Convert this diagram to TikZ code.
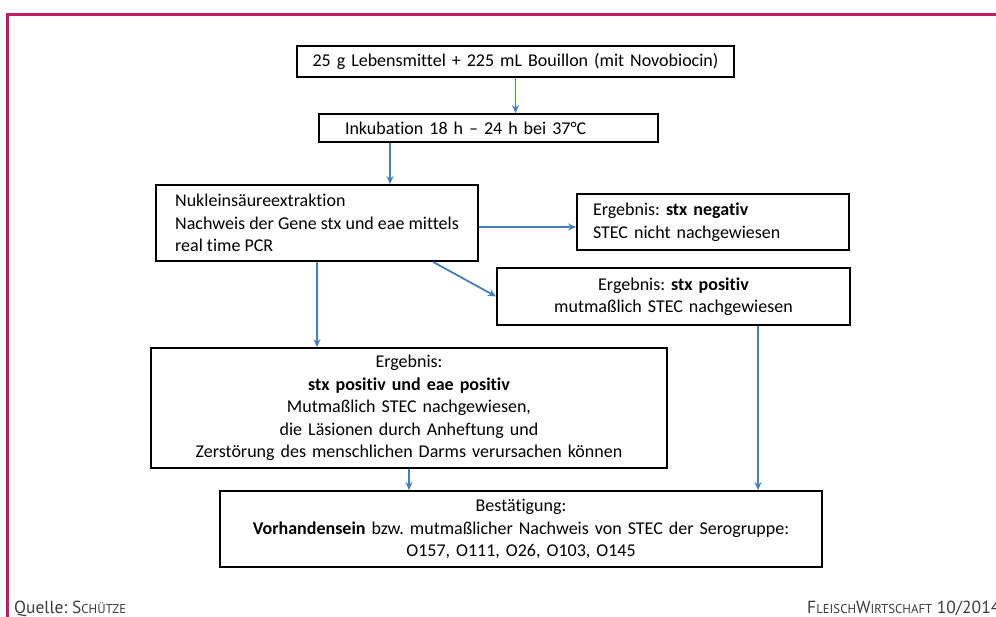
\documentclass[tikz,border=0pt]{standalone}
\usepackage{fontspec}
\setmainfont{Carlito}[Ligatures=NoCommon]
\newfontfamily\footfont{PT Sans}
\usepackage{tikz}
\usetikzlibrary{arrows.meta,positioning}

\definecolor{fwmagenta}{RGB}{192,30,96}
\definecolor{arrowblue}{RGB}{74,126,187}
\definecolor{footgray}{RGB}{60,60,60}
\newcommand{\fakesc}[2]{#1{\fontsize{12.8}{12.8}\selectfont #2}}
\frenchspacing
\hyphenpenalty=10000
\exhyphenpenalty=10000

\begin{document}
\begin{tikzpicture}
		[x=1pt,y=-1pt,
		box/.style={draw=black,line width=1.8pt,inner sep=0pt,align=center,
			font=\fontsize{18}{22.5}\selectfont},
		leftbox/.style={box,align=left},
		flow/.style={draw=arrowblue,line width=1.8pt,-{Stealth[length=8pt,width=7pt]}},
		foot/.style={inner sep=0pt,anchor=base west,text=footgray,
			font=\footfont\fontsize{17.5}{17.5}\selectfont}]
		\clip (0,0) rectangle (996,617);
		% frame
		\draw[fwmagenta,line width=3pt] (7,617) -- (7,14.5) -- (1000,14.5);
		% steps
		\node[box,minimum width=437pt,minimum height=31pt,text width=437pt] (food) at (515.5,61.5)
			{25 g Lebensmittel + 225 mL Bouillon (mit Novobiocin)};
		\node[leftbox,minimum width=339pt,minimum height=28pt,inner xsep=26pt,text width=287pt] (incub) at (488.5,128)
			{Inkubation 18 h -- 24 h bei 37°C};
		\node[leftbox,minimum width=322pt,minimum height=76pt] (nucl) at (317,223)
			{Nukleinsäureextraktion\\Nachweis der Gene stx und eae mittels\\real time PCR};
		\node[leftbox,minimum width=272pt,minimum height=56pt,inner xsep=16pt,text width=240pt] (neg) at (713,222)
			{Ergebnis: \textbf{stx negativ}\\STEC nicht nachgewiesen};
		\node[box,minimum width=353pt,minimum height=57pt,text width=353pt] (pos) at (673.5,296.5)
			{Ergebnis: \textbf{stx positiv}\\mutmaßlich STEC nachgewiesen};
		\node[box,minimum width=516pt,minimum height=120pt,text width=516pt] (both) at (409,408)
			{Ergebnis:\\\textbf{stx positiv und eae positiv}\\Mutmaßlich STEC nachgewiesen,\\die Läsionen durch Anheftung und\\Zerstörung des menschlichen Darms verursachen können};
		\node[box,minimum width=602pt,minimum height=76pt,text width=602pt] (conf) at (521,529)
			{Bestätigung:\\\textbf{Vorhandensein} bzw. mutmaßlicher Nachweis von STEC der Serogruppe:\\O157, O111, O26, O103, O145};
		% connectors
		\draw[flow] (food.south) -- (food.south |- incub.north);
		\draw[flow] ([xshift=-98.5pt]incub.south) -- ([xshift=-98.5pt]incub.south |- nucl.north);
		\draw[flow] (nucl.east |- 0,227) -- (neg.west |- 0,227);
		\draw[flow] ([xshift=116pt]nucl.south) -- (pos.west);
		\draw[flow] (nucl.south) -- (nucl.south |- both.north);
		\draw[flow] ([xshift=84.5pt]pos.south) -- ([xshift=84.5pt]pos.south |- conf.north);
		\draw[flow] (both.south) -- (both.south |- conf.north);
		% footer
		\node[foot] (source) at (14,613) {Quelle: \fakesc{S}{CHÜTZE}};
		\node[foot] (journal) at (807,613) {\fakesc{F}{LEISCH}\fakesc{W}{IRTSCHAFT} 10/2014};
\end{tikzpicture}
\end{document}
